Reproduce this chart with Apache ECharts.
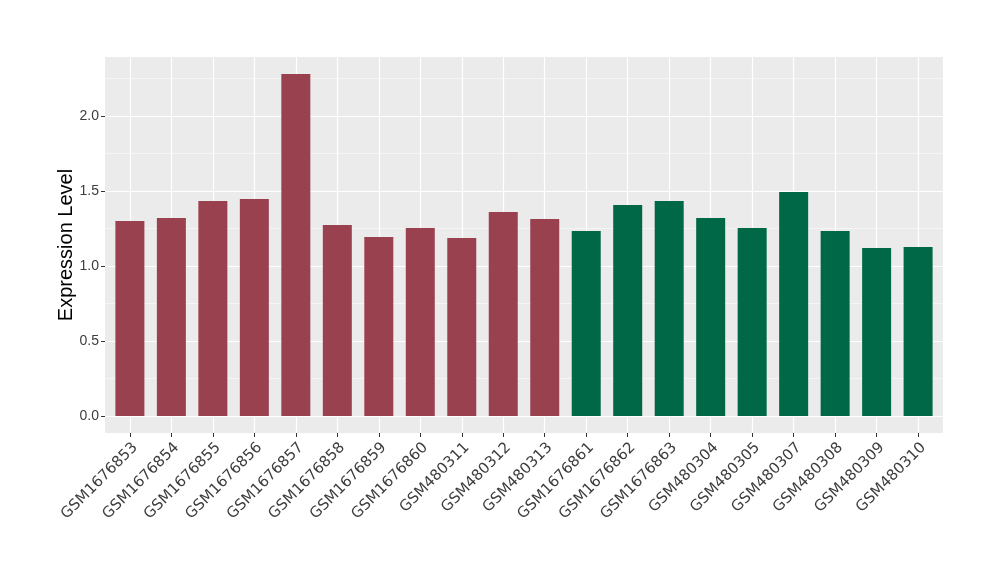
<!DOCTYPE html>
<html>
<head>
<meta charset="utf-8">
<script src="https://cdn.jsdelivr.net/npm/echarts@6/dist/echarts.min.js"></script>
<style>html,body{margin:0;padding:0;background:#fff}#c{width:1000px;height:580px}</style>
</head>
<body>
<div id="c"></div>
<script>
const categories = ["GSM1676853","GSM1676854","GSM1676855","GSM1676856","GSM1676857","GSM1676858","GSM1676859","GSM1676860","GSM480311","GSM480312","GSM480313","GSM1676861","GSM1676862","GSM1676863","GSM480304","GSM480305","GSM480307","GSM480308","GSM480309","GSM480310"];
const values = [1.300,1.320,1.433,1.447,2.280,1.273,1.193,1.253,1.187,1.360,1.313,1.233,1.407,1.433,1.320,1.253,1.493,1.233,1.120,1.127];
const groups = ["A","A","A","A","A","A","A","A","A","A","A","B","B","B","B","B","B","B","B","B"];
const groupColors = {A: "#9A4150", B: "#006846"};
const yTicks = [0, 0.5, 1.0, 1.5, 2.0];
const yMinorTicks = [0.25, 0.75, 1.25, 1.75, 2.25];
const yMin = -0.114, yMax = 2.394;

const idx = categories.map((c, i) => i);
const font = "Liberation Sans";
const chart = echarts.init(document.getElementById('c'), null, {renderer: 'canvas'});
chart.setOption({
  animation: false,
  backgroundColor: '#ffffff',
  grid: {left: 105, top: 57, width: 838, height: 376, show: true, backgroundColor: '#EBEBEB', borderWidth: 0},
  xAxis: {
    type: 'value', min: -0.6, max: categories.length - 0.4, position: 'bottom',
    axisLine: {show: false, onZero: false},
    axisTick: {show: true, customValues: idx, length: 4, lineStyle: {color: '#333333', width: 1}},
    axisLabel: {customValues: idx, formatter: v => categories[Math.round(v)], rotate: 45, margin: 7,
      verticalAlign: 'top', fontFamily: 'DejaVu Sans', fontSize: 15, color: '#3D3D3D'},
    splitLine: {show: true, lineStyle: {color: '#ffffff', width: 1.2}}
  },
  yAxis: [{
    type: 'value', min: yMin, max: yMax, position: 'left',
    name: 'Expression Level', nameLocation: 'middle', nameGap: 39, nameMoveOverlap: false,
    nameTextStyle: {fontFamily: font, fontSize: 20, color: '#000000', verticalAlign: 'middle'},
    axisLine: {show: false, onZero: false},
    axisTick: {show: true, customValues: yTicks, length: 4, lineStyle: {color: '#333333', width: 1}},
    axisLabel: {customValues: yTicks, formatter: v => v.toFixed(1), margin: 6,
      fontFamily: font, fontSize: 14, color: '#3D3D3D'},
    splitLine: {show: true, lineStyle: {color: '#ffffff', width: 1.2}}
  }, {
    type: 'value', min: yMin, max: yMax, position: 'left',
    axisLine: {show: false, onZero: false},
    axisTick: {show: false, customValues: yMinorTicks},
    axisLabel: {show: false},
    splitLine: {show: true, lineStyle: {color: '#F7F7F7', width: 0.8}}
  }],
  series: [{
    type: 'bar', yAxisIndex: 0, barWidth: 29,
    data: values.map((v, i) => ({value: [i, v], itemStyle: {color: groupColors[groups[i]]}}))
  }]
});
</script>
</body>
</html>
